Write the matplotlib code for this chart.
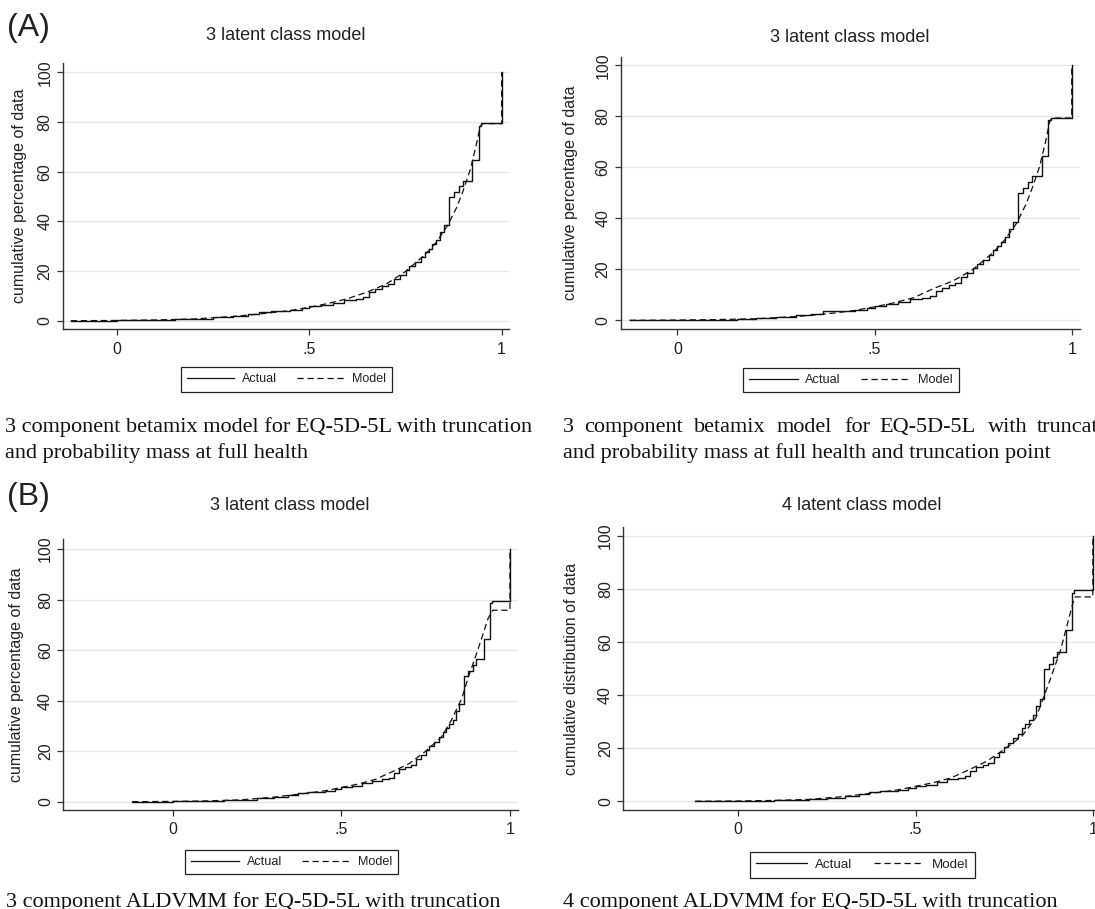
import matplotlib
matplotlib.use("Agg")
import matplotlib.pyplot as plt
from matplotlib.lines import Line2D

W, H = 1095, 909

# ---------------- data ----------------
actual_x = [-0.121, 0.0, 0.1, 0.15, 0.2, 0.25, 0.3, 0.34, 0.37, 0.4, 0.45, 0.48, 0.5,
            0.53, 0.56, 0.59, 0.62, 0.64, 0.655, 0.67, 0.69, 0.705, 0.72, 0.735, 0.75,
            0.76, 0.775, 0.79, 0.80, 0.81, 0.82, 0.83, 0.84, 0.85, 0.863, 0.876, 0.889,
            0.899, 0.924, 0.940, 0.947, 1.0]
actual_y = [0, 0.1, 0.3, 0.5, 0.8, 1.3, 2.0, 2.6, 3.5, 3.8, 4.2, 5.0, 5.8,
            6.3, 7.2, 8.3, 8.8, 9.5, 11.5, 12.8, 13.8, 14.6, 16.8, 18.5, 20.5,
            22.0, 23.8, 25.5, 27.5, 29.0, 30.8, 32.5, 35.8, 38.5, 49.9, 51.9, 54.2,
            56.4, 64.6, 78.5, 79.5, 100]

model_a1_x = [-0.121, 0.0, 0.1, 0.2, 0.3, 0.35, 0.4, 0.45, 0.5, 0.55, 0.6, 0.65, 0.7,
              0.75, 0.8, 0.83, 0.86, 0.884, 0.899, 0.918, 0.933, 0.944, 0.95, 1.0, 1.0]
model_a1_y = [0, 0.1, 0.3, 0.7, 1.7, 2.4, 3.2, 4.1, 5.4, 7.0, 8.9, 11.5, 14.8,
              19.8, 26.5, 31.5, 38.5, 45.9, 51.9, 60.6, 70.0, 78.0, 79.3, 79.3, 100]

model_a2_x = [-0.121, 0.0, 0.1, 0.2, 0.3, 0.35, 0.4, 0.45, 0.5, 0.55, 0.6, 0.65, 0.7,
              0.75, 0.8, 0.83, 0.86, 0.884, 0.899, 0.918, 0.933, 0.944, 0.95, 1.0, 1.0]
model_a2_y = [0, 0.1, 0.3, 0.6, 1.5, 2.1, 2.9, 3.9, 5.3, 6.9, 8.9, 12.5, 15.5,
              20.0, 26.5, 31.5, 38.0, 45.5, 51.5, 60.0, 69.5, 77.8, 79.3, 79.3, 100]

model_b1_x = [-0.121, 0.0, 0.1, 0.2, 0.3, 0.35, 0.4, 0.45, 0.5, 0.55, 0.6, 0.65, 0.7,
              0.75, 0.796, 0.826, 0.857, 0.877, 0.898, 0.918, 0.935, 0.949, 1.0, 1.0]
model_b1_y = [0, 0.1, 0.3, 0.7, 1.8, 2.6, 3.4, 4.3, 5.6, 7.0, 8.8, 11.8, 15.0,
              20.0, 25.5, 32.2, 40.9, 49.5, 57.5, 65.5, 72.5, 75.8, 75.8, 100]

model_b2_x = [-0.121, 0.0, 0.1, 0.2, 0.3, 0.35, 0.4, 0.45, 0.5, 0.55, 0.6, 0.65, 0.7,
              0.75, 0.8, 0.84, 0.879, 0.909, 0.929, 0.944, 0.95, 1.0, 1.0]
model_b2_y = [0, 0.1, 0.3, 0.7, 1.8, 2.6, 3.4, 4.3, 5.6, 7.0, 8.8, 11.8, 15.0,
              19.5, 24.5, 31.6, 45.6, 57.0, 67.2, 74.8, 77.0, 77.0, 100]

panel_titles = ["3 latent class model", "3 latent class model",
                "3 latent class model", "4 latent class model"]
y_titles = ["cumulative percentage of data", "cumulative percentage of data",
            "cumulative percentage of data", "cumulative distribution of data"]
legend_labels = ["Actual", "Model"]
x_ticks = [0, 0.5, 1]
x_tick_labels = ["0", ".5", "1"]
y_ticks = [0, 20, 40, 60, 80, 100]
y_tick_labels = ["0", "20", "40", "60", "80", "100"]

caption_a1 = ["3 component betamix model for EQ-5D-5L with truncation",
              "and probability mass at full health"]
caption_a2_line1 = ["3", "component", "betamix", "model", "for", "EQ-5D-5L", "with", "truncation"]
caption_a2_line2 = "and probability mass at full health and truncation point"
caption_b1 = "3 component ALDVMM for EQ-5D-5L with truncation"
caption_b2 = "4 component ALDVMM for EQ-5D-5L with truncation"
section_labels = ["(A)", "(B)"]

# ---------------- layout ----------------
SANS = "Liberation Sans"
SERIF = "Liberation Serif"

fig = plt.figure(figsize=(W / 100, H / 100), dpi=100)
fig.patch.set_facecolor("white")


def fx(px):
    return px / W


def fy(py):
    return 1 - py / H


panels = [
    dict(box=(62.7, 63.3, 509.3, 329.0), xlim=(-0.142, 1.020), ylim=(-3.34, 103.6),
         title=(286, 35), ylab=20, leg=(286.3, 379.4), lfs=9.0,
         mx=model_a1_x, my=model_a1_y),
    dict(box=(621.0, 57.3, 1080.0, 329.0), xlim=(-0.143, 1.021), ylim=(-3.4, 103.1),
         title=(850, 37), ylab=571, leg=(850.7, 380.0), lfs=9.2,
         mx=model_a2_x, my=model_a2_y),
    dict(box=(63.3, 538.5, 517.7, 810.0), xlim=(-0.3255, 1.023), ylim=(-3.3, 104.2),
         title=(290, 505.5), ylab=17, leg=(291.4, 862.0), lfs=9.1,
         mx=model_b1_x, my=model_b1_y),
    dict(box=(623.3, 527.4, 1101.0, 810.0), xlim=(-0.324, 1.023), ylim=(-3.3, 103.2),
         title=(862, 505.5), ylab=571, leg=(862.5, 864.7), lfs=9.6,
         mx=model_b2_x, my=model_b2_y),
]

for i, p in enumerate(panels):
    x0, y0, x1, y1 = p["box"]
    ax = fig.add_axes([fx(x0), fy(y1), (x1 - x0) / W, (y1 - y0) / H])
    ax.set_xlim(*p["xlim"])
    ax.set_ylim(*p["ylim"])
    for yv in y_ticks:
        ax.axhline(yv, color="#e6e6e6", lw=0.9, zorder=0)
    ax.plot(actual_x, actual_y, drawstyle="steps-post", color="#111111", lw=1.0,
            zorder=3, label=legend_labels[0])
    ax.plot(p["mx"], p["my"], color="#111111", lw=0.9, dashes=(5, 3),
            zorder=2, label=legend_labels[1])
    for s in ["top", "right"]:
        ax.spines[s].set_visible(False)
    for s in ["left", "bottom"]:
        ax.spines[s].set_color("#333333")
        ax.spines[s].set_linewidth(1.0)
    ax.set_xticks(x_ticks)
    ax.set_xticklabels(x_tick_labels, fontfamily=SANS, fontsize=11.5)
    ax.set_yticks(y_ticks)
    ax.set_yticklabels(y_tick_labels, fontfamily=SANS, fontsize=11.5,
                       rotation=90, va="center")
    ax.tick_params(axis="both", direction="out", length=4.5, width=0.9,
                   color="#333333", labelcolor="#222222")
    ax.tick_params(axis="x", pad=4.5)
    ax.tick_params(axis="y", pad=3)
    fig.text(fx(p["title"][0]), fy(p["title"][1]), panel_titles[i], ha="center",
             va="center", fontfamily=SANS, fontsize=13, color="#222222")
    fig.text(fx(p["ylab"]), fy((y0 + y1) / 2), y_titles[i], rotation=90,
             ha="center", va="center", fontfamily=SANS, fontsize=11.5, color="#222222")
    handles = [Line2D([], [], color="#111111", lw=0.9),
               Line2D([], [], color="#111111", lw=0.9, dashes=(5, 3))]
    leg = ax.legend(handles, legend_labels, ncol=2, loc="center",
                    bbox_to_anchor=(fx(p["leg"][0]), fy(p["leg"][1])),
                    bbox_transform=fig.transFigure, frameon=True, fancybox=False,
                    edgecolor="#222222", framealpha=1, handlelength=3.8,
                    handletextpad=0.6, columnspacing=1.6, borderpad=0.5,
                    prop=dict(family=SANS, size=p["lfs"]))
    leg.get_frame().set_linewidth(0.9)
    for t in leg.get_texts():
        t.set_color("#222222")

# section labels
fig.text(fx(7), fy(28), section_labels[0], ha="left", va="center",
         fontfamily=SANS, fontsize=23, color="#222222")
fig.text(fx(7), fy(497), section_labels[1], ha="left", va="center",
         fontfamily=SANS, fontsize=23, color="#222222")

# captions
CFS = 16
fig.text(fx(5), fy(431.6), caption_a1[0], ha="left", va="baseline",
         fontfamily=SERIF, fontsize=CFS, color="#111111")
fig.text(fx(5), fy(457.5), caption_a1[1], ha="left", va="baseline",
         fontfamily=SERIF, fontsize=CFS, color="#111111")
word_x = [563, 584.3, 693.5, 776.9, 843.9, 879.7, 987.5, 1036.5]
for w, xp in zip(caption_a2_line1, word_x):
    fig.text(fx(xp), fy(432.3), w, ha="left", va="baseline",
             fontfamily=SERIF, fontsize=CFS, color="#111111")
fig.text(fx(563), fy(458.3), caption_a2_line2, ha="left", va="baseline",
         fontfamily=SERIF, fontsize=CFS, color="#111111")
fig.text(fx(6), fy(906.5), caption_b1, ha="left", va="baseline",
         fontfamily=SERIF, fontsize=CFS, color="#111111")
fig.text(fx(563), fy(906.5), caption_b2, ha="left", va="baseline",
         fontfamily=SERIF, fontsize=CFS, color="#111111")

fig.savefig("out.png", dpi=100, facecolor="white")
